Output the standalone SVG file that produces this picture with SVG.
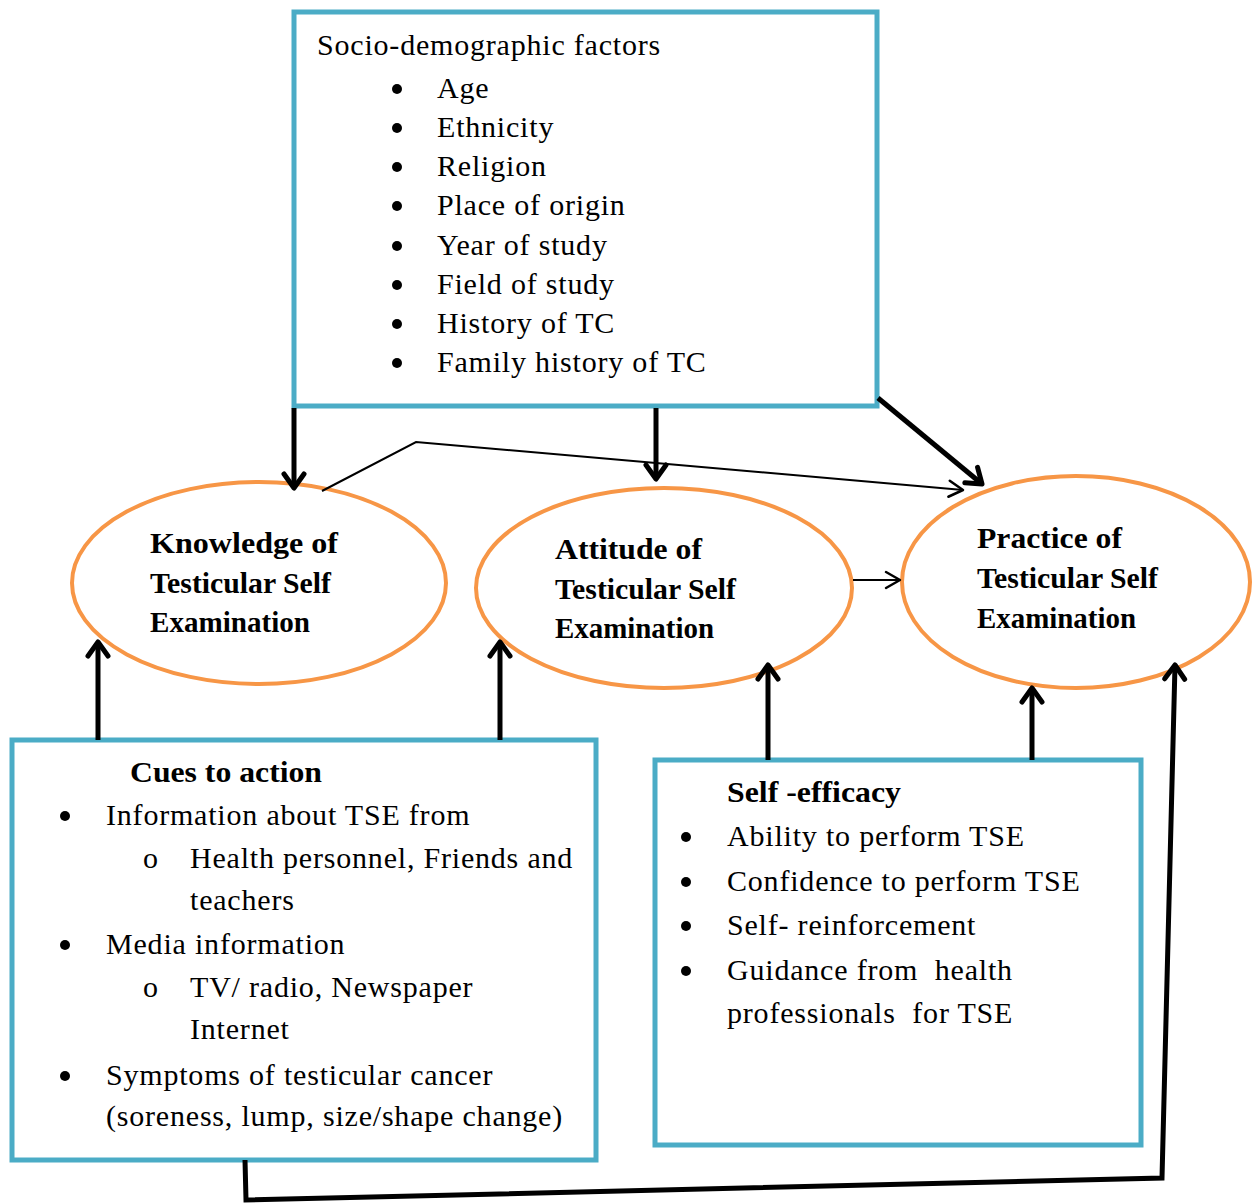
<svg xmlns="http://www.w3.org/2000/svg" width="1255" height="1203" viewBox="0 0 1255 1203">
<style>
.box{fill:#fff;stroke:#4BACC6;stroke-width:5}
.ell{fill:#fff;stroke:#F79646;stroke-width:4}
.t{font-family:"Liberation Serif","Times New Roman",serif;font-size:30px;letter-spacing:0.8px;fill:#000}
.b{font-family:"Liberation Serif","Times New Roman",serif;font-size:29px;font-weight:bold;fill:#000}
.thick{fill:none;stroke:#000;stroke-width:5}
.thin{fill:none;stroke:#000;stroke-width:2}
</style>
<defs>
<marker id="ah" markerUnits="userSpaceOnUse" markerWidth="30" markerHeight="30" refX="0" refY="0" viewBox="-20 -15 25 30" orient="auto" overflow="visible">
<path d="M-14,-10 L0,0 L-14,10" fill="none" stroke="#000" stroke-width="5" stroke-linecap="round" stroke-linejoin="round"/>
</marker>
<marker id="ahs" markerUnits="userSpaceOnUse" markerWidth="30" markerHeight="30" refX="0" refY="0" viewBox="-20 -15 25 30" orient="auto" overflow="visible">
<path d="M-14,-8 L0,0 L-14,8" fill="none" stroke="#000" stroke-width="2.5" stroke-linecap="round" stroke-linejoin="round"/>
</marker>
</defs>
<rect width="1255" height="1203" fill="#fff"/>

<g id="socio">
<rect class="box" x="294" y="12" width="583" height="394"/>
<text class="t" x="317" y="55">Socio-demographic factors</text>
<g class="t">
<circle cx="397" cy="89" r="5"/><text x="437" y="98">Age</text>
<circle cx="397" cy="128" r="5"/><text x="437" y="137">Ethnicity</text>
<circle cx="397" cy="167" r="5"/><text x="437" y="176">Religion</text>
<circle cx="397" cy="206" r="5"/><text x="437" y="215">Place of origin</text>
<circle cx="397" cy="246" r="5"/><text x="437" y="255">Year of study</text>
<circle cx="397" cy="285" r="5"/><text x="437" y="294">Field of study</text>
<circle cx="397" cy="324" r="5"/><text x="437" y="333">History of TC</text>
<circle cx="397" cy="363" r="5"/><text x="437" y="372">Family history of TC</text>
</g>
</g>

<g id="knowledge">
<ellipse class="ell" cx="259" cy="583" rx="187" ry="101"/>
<text class="b" x="150" y="553" textLength="188" lengthAdjust="spacingAndGlyphs">Knowledge of</text>
<text class="b" x="150" y="593" textLength="181" lengthAdjust="spacingAndGlyphs">Testicular Self</text>
<text class="b" x="150" y="632" textLength="160" lengthAdjust="spacingAndGlyphs">Examination</text>
</g>

<g id="attitude">
<ellipse class="ell" cx="664" cy="588" rx="188" ry="100"/>
<text class="b" x="555" y="559" textLength="147" lengthAdjust="spacingAndGlyphs">Attitude of</text>
<text class="b" x="555" y="599" textLength="181" lengthAdjust="spacingAndGlyphs">Testicular Self</text>
<text class="b" x="555" y="638" textLength="159" lengthAdjust="spacingAndGlyphs">Examination</text>
</g>

<g id="practice">
<ellipse class="ell" cx="1076" cy="582" rx="174" ry="106"/>
<text class="b" x="977" y="548" textLength="145" lengthAdjust="spacingAndGlyphs">Practice of</text>
<text class="b" x="977" y="588" textLength="181" lengthAdjust="spacingAndGlyphs">Testicular Self</text>
<text class="b" x="977" y="628" textLength="159" lengthAdjust="spacingAndGlyphs">Examination</text>
</g>

<g id="cues">
<rect class="box" x="12" y="740" width="584" height="420"/>
<text class="b" x="130" y="782" textLength="192" lengthAdjust="spacingAndGlyphs">Cues to action</text>
<g class="t">
<circle cx="65" cy="816" r="5"/><text x="106" y="825">Information about TSE from</text>
<text x="143" y="868">o</text><text x="190" y="868">Health personnel, Friends and</text>
<text x="190" y="910">teachers</text>
<circle cx="65" cy="945" r="5"/><text x="106" y="954">Media information</text>
<text x="143" y="997">o</text><text x="190" y="997">TV/ radio, Newspaper</text>
<text x="190" y="1039">Internet</text>
<circle cx="65" cy="1076" r="5"/><text x="106" y="1085">Symptoms of testicular cancer</text>
<text x="106" y="1126">(soreness, lump, size/shape change)</text>
</g>
</g>

<g id="selfefficacy">
<rect class="box" x="655" y="760" width="486" height="385"/>
<text class="b" x="727" y="802" textLength="174" lengthAdjust="spacingAndGlyphs">Self -efficacy</text>
<g class="t">
<circle cx="686" cy="837" r="5"/><text x="727" y="846">Ability to perform TSE</text>
<circle cx="686" cy="882" r="5"/><text x="727" y="891">Confidence to perform TSE</text>
<circle cx="686" cy="926" r="5"/><text x="727" y="935">Self- reinforcement</text>
<circle cx="686" cy="971" r="5"/><text x="727" y="980">Guidance from&#160; health</text>
<text x="727" y="1023">professionals&#160; for TSE</text>
</g>
</g>

<g id="connectors">
<line class="thick" x1="294" y1="408" x2="294" y2="488" marker-end="url(#ah)"/>
<line class="thick" x1="656" y1="408" x2="656" y2="479" marker-end="url(#ah)"/>
<line class="thick" x1="878" y1="398" x2="982" y2="484" marker-end="url(#ah)"/>
<polyline class="thin" points="322,491 416,442 963,490" marker-end="url(#ahs)"/>
<line class="thin" x1="853" y1="580" x2="900" y2="580" marker-end="url(#ahs)"/>
<line class="thick" x1="98" y1="740" x2="98" y2="642" marker-end="url(#ah)"/>
<line class="thick" x1="500" y1="740" x2="500" y2="642" marker-end="url(#ah)"/>
<line class="thick" x1="768" y1="760" x2="768" y2="665" marker-end="url(#ah)"/>
<line class="thick" x1="1032" y1="760" x2="1032" y2="688" marker-end="url(#ah)"/>
<polyline class="thick" points="245,1160 246,1200 1162,1178 1175,665" marker-end="url(#ah)"/>
</g>
</svg>
